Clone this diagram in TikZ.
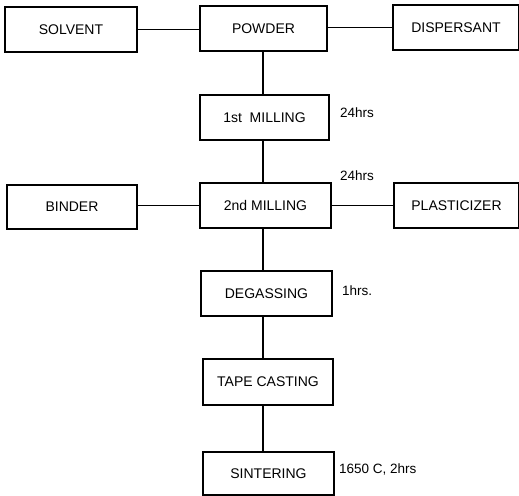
\documentclass[tikz,border=0pt]{standalone}
\usepackage{fontspec}
\newfontfamily\diagfont{Liberation Sans}
\begin{document}
\begin{tikzpicture}[x=1pt,y=-1pt,
  box/.style={draw,line width=1.3pt,inner sep=0pt,font=\diagfont\fontsize{14}{16}\selectfont},
  note/.style={anchor=west,inner sep=0pt,font=\diagfont\fontsize{13.5}{15}\selectfont},
  link/.style={line width=1.2pt}]
\useasboundingbox (0,0) rectangle (519,495);
\node[box,minimum width=132pt,minimum height=45pt] (solvent) at (71,29.5) {SOLVENT};
\node[box,minimum width=127pt,minimum height=45pt] (powder) at (263.5,28.5) {POWDER};
\node[box,minimum width=126pt,minimum height=45pt] (disp) at (456,27.5) {DISPERSANT};
\node[box,minimum width=129pt,minimum height=45pt] (m1) at (264.5,117.5) {1st\ \ MILLING};
\node[note] (n1) at (340,113) {24hrs};
\node[box,minimum width=130pt,minimum height=44pt] (binder) at (72,207) {BINDER};
\node[box,minimum width=131pt,minimum height=45pt] (m2) at (265.5,205.5) {2nd MILLING};
\node[box,minimum width=125pt,minimum height=45pt] (plast) at (456.5,205.5) {PLASTICIZER};
\node[note] (n2) at (340,176) {24hrs};
\node[box,minimum width=131pt,minimum height=45pt] (degas) at (266.5,293.5) {DEGASSING};
\node[note] (n3) at (342,291) {1hrs.};
\node[box,minimum width=130pt,minimum height=46pt] (tape) at (268,382) {TAPE CASTING};
\node[box,minimum width=131pt,minimum height=43pt] (sint) at (268.5,473.5) {SINTERING};
\node[note] (n4) at (339,469) {1650 C, 2hrs};
\coordinate (vx) at (263,0);
\draw[link] (solvent.east) -- (solvent.east -| powder.west);
\draw[link] (powder.east |- disp.west) -- (disp.west);
\draw[link] (vx |- powder.south) -- (vx |- m1.north);
\draw[link] (vx |- m1.south) -- (vx |- m2.north);
\draw[link] (binder.east |- m2.west) -- (m2.west);
\draw[link] (m2.east) -- (m2.east -| plast.west);
\draw[link] (vx |- m2.south) -- (vx |- degas.north);
\draw[link] (vx |- degas.south) -- (vx |- tape.north);
\draw[link] (vx |- tape.south) -- (vx |- sint.north);
\end{tikzpicture}
\end{document}
